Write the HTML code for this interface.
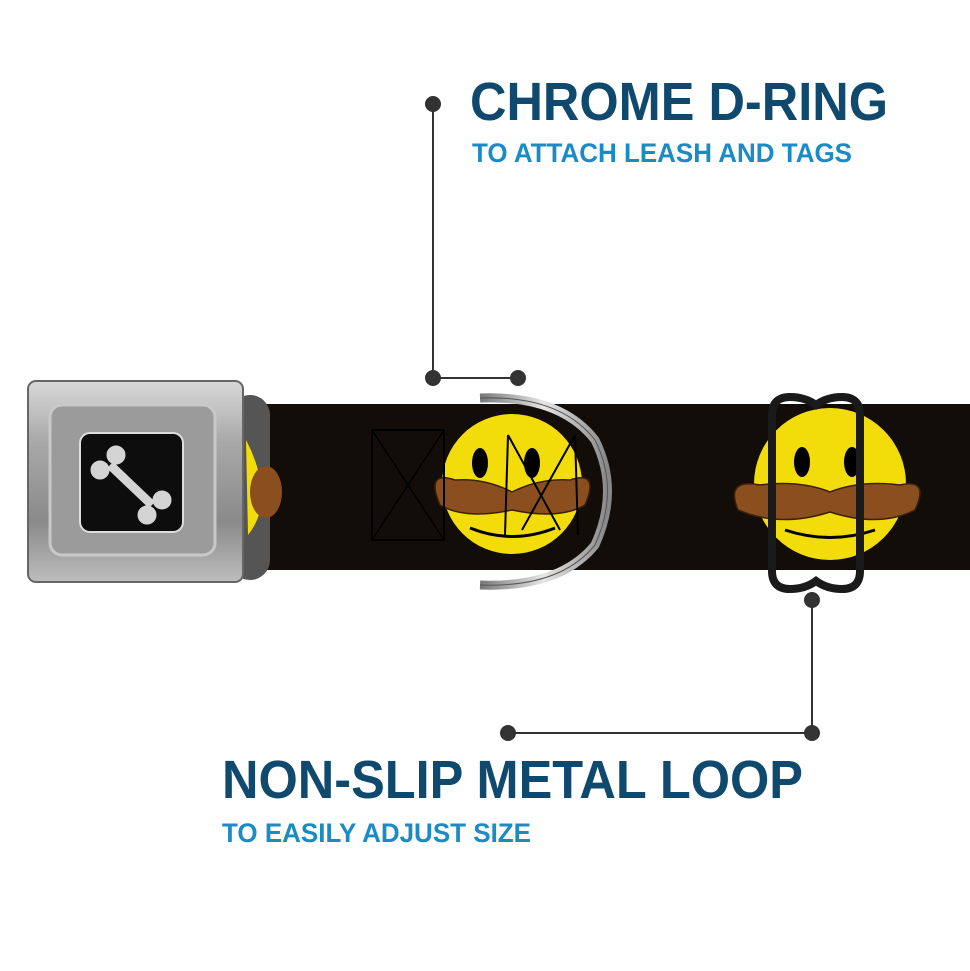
<!DOCTYPE html>
<html><head><meta charset="utf-8"><style>html,body{margin:0;padding:0;background:#fff}svg{display:block}</style></head>
<body>
<svg width="970" height="971" viewBox="0 0 970 971" xmlns="http://www.w3.org/2000/svg" font-family="Liberation Sans, sans-serif">
<defs>
<linearGradient id="buck" x1="0" y1="0" x2="0" y2="1">
<stop offset="0" stop-color="#d8d8d8"/><stop offset="0.3" stop-color="#a9a9a9"/><stop offset="0.7" stop-color="#8a8a8a"/><stop offset="1" stop-color="#bdbdbd"/></linearGradient>
<linearGradient id="ring" x1="0" y1="0" x2="1" y2="0">
<stop offset="0" stop-color="#777"/><stop offset="0.5" stop-color="#e6e6e6"/><stop offset="1" stop-color="#888"/></linearGradient>
</defs>
<rect x="250" y="404" width="720" height="166" fill="#130d09"/>
<rect x="230" y="395" width="40" height="185" rx="20" fill="#555"/>
<path d="M246 440 Q262 470 262 500 Q260 520 248 535 Z" fill="#f2dc0a"/>
<ellipse cx="266" cy="492" rx="16" ry="26" fill="#8b4e1f"/>
<!-- face 1 -->
<circle cx="512" cy="484" r="70" fill="#f2dc0a"/>
<ellipse cx="480" cy="463" rx="8" ry="15" fill="#000"/>
<ellipse cx="532" cy="463" rx="8" ry="15" fill="#000"/>
<path d="M440 505 Q425 470 455 480 Q485 478 512 492 Q540 478 570 480 Q600 470 585 505 Q560 520 512 510 Q465 520 440 505Z" fill="#8b4e1f" stroke="#3a2008" stroke-width="1.5"/>
<path d="M470 528 Q512 545 555 528" stroke="#000" stroke-width="3" fill="none"/>
<rect x="372" y="430" width="72" height="110" fill="none" stroke="#000" stroke-width="2"/>
<path d="M372 430 L444 540 M444 430 L372 540" stroke="#000" stroke-width="1.5"/>
<path d="M508 435 L505 535 M508 435 L560 530 M575 435 L522 530 M575 435 L578 535" stroke="#000" stroke-width="2" fill="none"/>
<!-- D-ring -->
<path d="M480 398 Q560 395 595 440 Q620 490 595 545 Q560 588 480 585" fill="none" stroke="url(#ring)" stroke-width="9"/>
<path d="M480 398 Q560 395 595 440 Q620 490 595 545 Q560 588 480 585" fill="none" stroke="#555" stroke-width="1"/>
<!-- face 2 -->
<circle cx="830" cy="484" r="76" fill="#f2dc0a"/>
<ellipse cx="802" cy="462" rx="8" ry="15" fill="#000"/>
<ellipse cx="852" cy="462" rx="8" ry="15" fill="#000"/>
<path d="M738 510 Q725 478 760 485 Q800 480 830 492 Q860 480 900 485 Q930 478 915 510 Q880 528 830 512 Q780 528 738 510Z" fill="#8b4e1f" stroke="#3a2008" stroke-width="1.5"/>
<path d="M785 530 Q830 545 875 530" stroke="#000" stroke-width="3" fill="none"/>
<!-- loop -->
<path d="M790 397 Q805 397 816 405 Q827 397 842 397 Q860 397 860 415 L860 571 Q860 589 842 589 Q827 589 816 581 Q805 589 790 589 Q772 589 772 571 L772 415 Q772 397 790 397Z" fill="none" stroke="#1a1a1a" stroke-width="8"/>
<!-- buckle -->
<rect x="28" y="381" width="215" height="201" rx="8" fill="url(#buck)" stroke="#666" stroke-width="2"/>
<rect x="50" y="405" width="165" height="150" rx="12" fill="#9b9b9b" stroke="#c8c8c8" stroke-width="3"/>
<rect x="80" y="433" width="103" height="99" rx="10" fill="#0d0d0d" stroke="#ddd" stroke-width="2"/>
<g stroke="#d4d4d4" fill="#d4d4d4">
<line x1="110" y1="465" x2="152" y2="505" stroke-width="9"/>
<circle cx="100" cy="470" r="9"/><circle cx="116" cy="455" r="9"/>
<circle cx="147" cy="515" r="9"/><circle cx="162" cy="500" r="9"/>
</g>
<g stroke="#333" stroke-width="2" fill="#333">
<line x1="433" y1="104" x2="433" y2="378"/><line x1="433" y1="378" x2="518" y2="378"/>
<circle cx="433" cy="104" r="7"/><circle cx="433" cy="378" r="7"/><circle cx="518" cy="378" r="7"/>
<line x1="812" y1="600" x2="812" y2="733"/><line x1="508" y1="733" x2="812" y2="733"/>
<circle cx="812" cy="600" r="7"/><circle cx="812" cy="733" r="7"/><circle cx="508" cy="733" r="7"/>
</g>
<text x="470" y="120" font-size="54" font-weight="bold" fill="#0f4a6e" textLength="418" lengthAdjust="spacingAndGlyphs">CHROME D-RING</text>
<text x="472" y="162" font-size="27" font-weight="bold" fill="#1a8bc4" textLength="380" lengthAdjust="spacingAndGlyphs">TO ATTACH LEASH AND TAGS</text>
<text x="222" y="798" font-size="54" font-weight="bold" fill="#0f4a6e" textLength="581" lengthAdjust="spacingAndGlyphs">NON-SLIP METAL LOOP</text>
<text x="222" y="842" font-size="27" font-weight="bold" fill="#1a8bc4" textLength="309" lengthAdjust="spacingAndGlyphs">TO EASILY ADJUST SIZE</text>
</svg>
</body></html>
